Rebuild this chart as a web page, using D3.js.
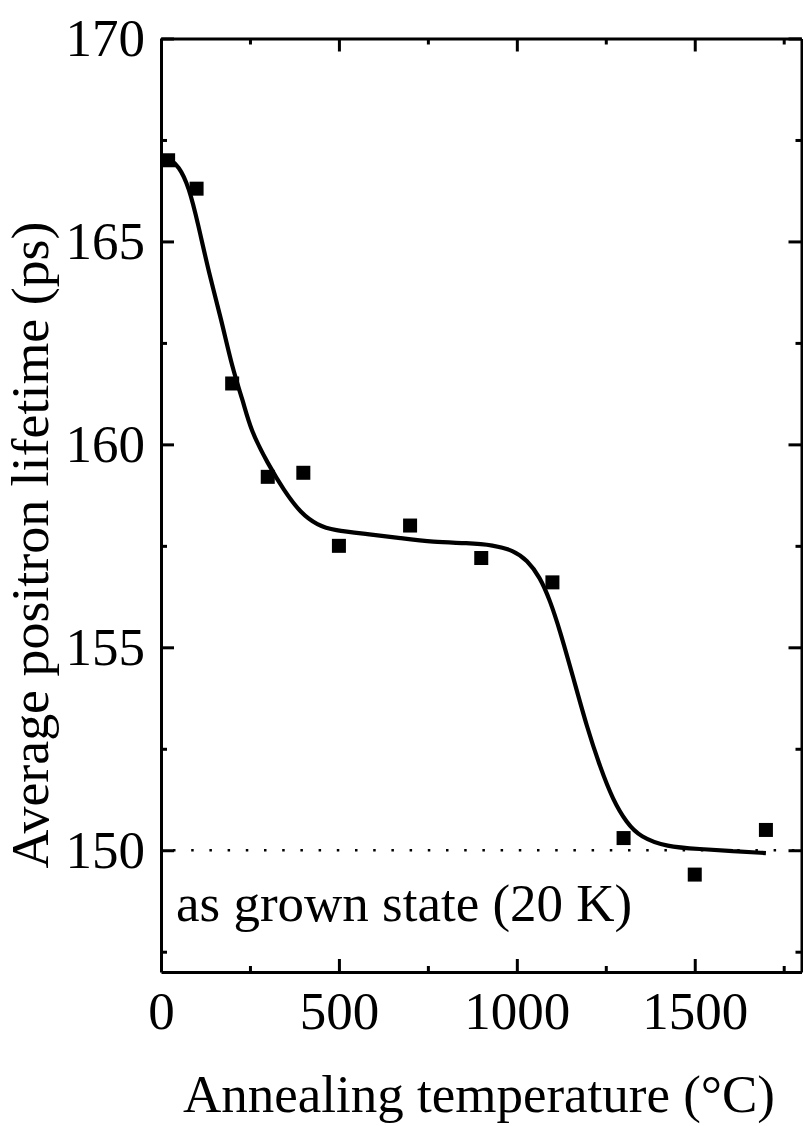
<!DOCTYPE html>
<html>
<head>
<meta charset="utf-8">
<script src="https://cdn.jsdelivr.net/npm/d3@7"></script>
<style>
  html, body { margin: 0; padding: 0; background: #fff; }
  svg { display: block; }
  text { font-family: "Liberation Serif", "Times New Roman", Times, serif; fill: #000; }
</style>
</head>
<body>
<svg id="chart" width="803" height="1126"></svg>
<script>
// Measured data points
const tempC = [20, 100, 200, 300, 400, 500, 700, 900, 1100, 1300, 1500, 1700];
const lifetime = [167.0, 166.3, 161.5, 159.2, 159.3, 157.5, 158.0, 157.2, 156.6, 150.3, 149.4, 150.5];

// Fit curve
const fitT = [20, 50, 79, 104, 135, 168, 202, 230, 252, 300, 345, 393, 440, 485, 580, 673, 765, 861, 934, 990, 1029, 1065, 1093, 1121, 1158, 1197, 1234, 1270, 1309, 1346, 1421, 1514, 1607, 1700];
const fitV = [167.05, 166.87, 166.33, 165.44, 164.21, 163.13, 161.82, 161.09, 160.35, 159.53, 158.87, 158.30, 158.01, 157.88, 157.79, 157.69, 157.59, 157.57, 157.52, 157.39, 157.15, 156.73, 156.16, 155.42, 154.27, 153.03, 152.05, 151.24, 150.67, 150.33, 150.08, 150.03, 149.98, 149.93];

const xMajor = [0, 500, 1000, 1500];
const xMinor = [250, 750, 1250, 1750];
const yMajor = [150, 155, 160, 165, 170];
const yMinor = [147.5, 152.5, 157.5, 162.5, 167.5];
const refLevel = 150;

const xTitle = "Annealing temperature (°C)";
const yTitle = "Average positron lifetime (ps)";
const note = "as grown state (20 K)";

const L = 161, R = 801.5, T = 38.5, B = 972;
const FS = 53;

const svg = d3.select("#chart");
const x = d3.scaleLinear().domain([0, 1800]).range([L, R]);
const y = d3.scaleLinear().domain([147, 170]).range([B, T]);

const SW = 3;

function styleAxis(g) {
  g.selectAll(".domain").attr("stroke", "#000").attr("stroke-width", SW);
  g.selectAll(".tick line").attr("stroke", "#000").attr("stroke-width", SW);
  g.selectAll(".tick text").style("font-family", '"Liberation Serif", "Times New Roman", serif').style("font-size", FS + "px").attr("fill", "#000");
}

// Bottom axis
const gB = svg.append("g").attr("transform", `translate(0,${B})`)
  .call(d3.axisBottom(x).tickValues(xMajor).tickSize(-13).tickPadding(19).tickFormat(d3.format("d")).tickSizeOuter(0));
styleAxis(gB);
const gBm = svg.append("g").attr("transform", `translate(0,${B})`)
  .call(d3.axisBottom(x).tickValues(xMinor).tickSize(-6).tickFormat("").tickSizeOuter(0));
styleAxis(gBm); gBm.select(".domain").remove();

// Top axis
const gT = svg.append("g").attr("transform", `translate(0,${T})`)
  .call(d3.axisTop(x).tickValues(xMajor).tickSize(-13).tickFormat("").tickSizeOuter(0));
styleAxis(gT);
const gTm = svg.append("g").attr("transform", `translate(0,${T})`)
  .call(d3.axisTop(x).tickValues(xMinor).tickSize(-6).tickFormat("").tickSizeOuter(0));
styleAxis(gTm); gTm.select(".domain").remove();

// Left axis
const gL = svg.append("g").attr("transform", `translate(${L},0)`)
  .call(d3.axisLeft(y).tickValues(yMajor).tickSize(-13).tickPadding(16).tickFormat(d3.format("d")).tickSizeOuter(0));
styleAxis(gL);
gL.selectAll(".tick text").attr("dy", "0.32em");
const gLm = svg.append("g").attr("transform", `translate(${L},0)`)
  .call(d3.axisLeft(y).tickValues(yMinor).tickSize(-6).tickFormat("").tickSizeOuter(0));
styleAxis(gLm); gLm.select(".domain").remove();

// Right axis
const gR = svg.append("g").attr("transform", `translate(${R},0)`)
  .call(d3.axisRight(y).tickValues(yMajor).tickSize(-13).tickFormat("").tickSizeOuter(0));
styleAxis(gR);
const gRm = svg.append("g").attr("transform", `translate(${R},0)`)
  .call(d3.axisRight(y).tickValues(yMinor).tickSize(-6).tickFormat("").tickSizeOuter(0));
styleAxis(gRm); gRm.select(".domain").remove();

// Reference dotted line
svg.append("line")
  .attr("x1", x(0)).attr("x2", R - 1)
  .attr("y1", y(refLevel)).attr("y2", y(refLevel))
  .attr("stroke", "#000").attr("stroke-width", 2.5)
  .attr("stroke-dasharray", "2.5,15.7")
  .attr("stroke-dashoffset", -12);

// Fit curve
const fitData = fitT.map((t, i) => [t, fitV[i]]);
svg.append("path")
  .datum(fitData)
  .attr("fill", "none")
  .attr("stroke", "#000")
  .attr("stroke-width", 4.2)
  .attr("stroke-linejoin", "round")
  .attr("d", d3.line().x(d => x(d[0])).y(d => y(d[1])).curve(d3.curveBasis));

// Markers
const MS = 14;
svg.append("g").selectAll("rect")
  .data(tempC.map((t, i) => [t, lifetime[i]]))
  .join("rect")
  .attr("x", d => x(d[0]) - MS / 2)
  .attr("y", d => y(d[1]) - MS / 2)
  .attr("width", MS).attr("height", MS)
  .attr("fill", "#000");

// Annotation
svg.append("text")
  .attr("x", 176).attr("y", 921)
  .style("font-size", FS + "px")
  .text(note);

// Axis titles
svg.append("text")
  .attr("x", 479).attr("y", 1112)
  .attr("text-anchor", "middle")
  .attr("textLength", 592)
  .attr("lengthAdjust", "spacingAndGlyphs")
  .style("font-size", FS + "px")
  .text(xTitle);

svg.append("text")
  .attr("transform", `translate(48,545) rotate(-90)`)
  .attr("text-anchor", "middle")
  .attr("textLength", 647)
  .attr("lengthAdjust", "spacingAndGlyphs")
  .style("font-size", FS + "px")
  .text(yTitle);
</script>
</body>
</html>
